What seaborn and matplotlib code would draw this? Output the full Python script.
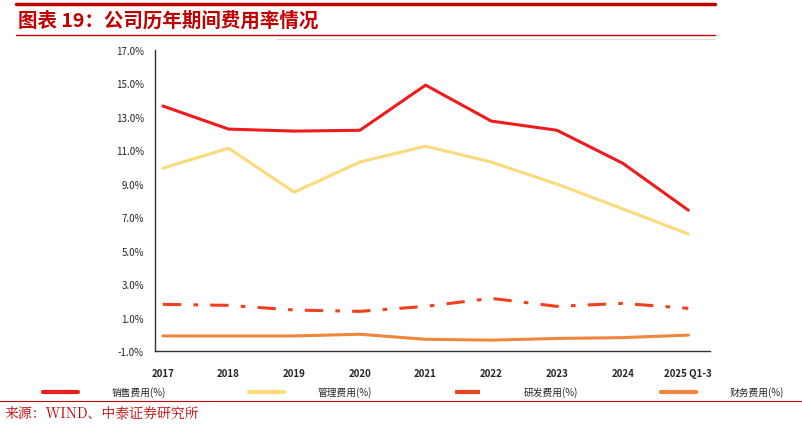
import matplotlib
matplotlib.use("Agg")
import matplotlib.pyplot as plt
import seaborn as sns
import pandas as pd
from matplotlib.lines import Line2D

sns.set_style("white")
plt.rcParams['font.family'] = ['Noto Sans CJK SC', 'DejaVu Sans']

years = ["2017", "2018", "2019", "2020", "2021", "2022", "2023", "2024", "2025 Q1-3"]
sales = [13.65, 12.27, 12.15, 12.2, 14.9, 12.75, 12.2, 10.23, 7.42]
admin = [9.93, 11.13, 8.5, 10.3, 11.25, 10.3, 8.98, 7.5, 6.0]
rnd = [1.79, 1.73, 1.45, 1.37, 1.67, 2.15, 1.67, 1.85, 1.55]
fin = [-0.1, -0.1, -0.1, 0.0, -0.3, -0.35, -0.25, -0.2, -0.05]
names = ["销售费用(%)", "管理费用(%)", "研发费用(%)", "财务费用(%)"]
colors = ["#EE1C1C", "#FADA7A", "#F2401E", "#F0853C"]
styles = ["-", "-", (0, (6, 4, 1.5, 4)), "-"]

fig = plt.figure(figsize=(8.03, 4.27), dpi=100)
ax = fig.add_axes([155/803, 1-352/427, (710-155)/803, (352-51)/427])
x = list(range(len(years)))
for vals, c, ls in zip([sales, admin, rnd, fin], colors, styles):
    df = pd.DataFrame({"x": x, "y": vals})
    sns.lineplot(data=df, x="x", y="y", ax=ax, color=c, lw=2.2, linestyle=ls)
ax.set_xlim(-0.12, 8.33)
ax.set_ylim(-1, 17)
ax.set_yticks([-1, 1, 3, 5, 7, 9, 11, 13, 15, 17])
ax.set_yticklabels([f"{v:.1f}%" for v in [-1, 1, 3, 5, 7, 9, 11, 13, 15, 17]], fontsize=7)
ax.set_xticks(x)
ax.set_xticklabels(years, fontsize=7, fontweight="bold")
ax.set_xticks([i + 0.5 for i in range(8)] + [8.33], minor=True)
ax.tick_params(axis="x", which="major", length=0, pad=12)
ax.tick_params(axis="x", which="minor", length=4, direction="out", color="#333")
ax.tick_params(axis="y", length=4, direction="out", color="#333", pad=4)
ax.set_xlabel(""); ax.set_ylabel("")
for s in ["top", "right"]:
    ax.spines[s].set_visible(False)
for s in ["left", "bottom"]:
    ax.spines[s].set_color("#333")
    ax.spines[s].set_linewidth(1)
ax.grid(False)

handles = [Line2D([], [], color=c, lw=3, linestyle=ls) for c, ls in zip(colors, styles)]
fig.legend(handles, names, loc="center", bbox_to_anchor=(0.515, 1-393/427), ncol=4,
           frameon=False, fontsize=7, handlelength=3.6, columnspacing=8.5, handletextpad=3.5)

fig.add_artist(Line2D([0.02, 0.89], [1-5/427]*2, color="#C00000", lw=2.5))
fig.add_artist(Line2D([0.02, 0.89], [1-36/427]*2, color="#C00000", lw=1))
fig.add_artist(Line2D([0.345, 0.89], [1-40/427]*2, color="#dddddd", lw=0.8))
fig.text(0.022, 1-21/427, "图表 19：公司历年期间费用率情况", fontsize=14, color="#C00000",
         fontweight="bold", style="italic", va="center")
fig.add_artist(Line2D([0.0, 1.0], [1-402/427]*2, color="#C00000", lw=0.8))
fig.text(0.005, 1-414/427, "来源：WIND、中泰证券研究所", fontsize=10, color="#C00000", va="center",
         family=['Noto Serif CJK SC', 'Noto Sans CJK SC', 'DejaVu Sans'])
fig.savefig("out.png", dpi=100)
